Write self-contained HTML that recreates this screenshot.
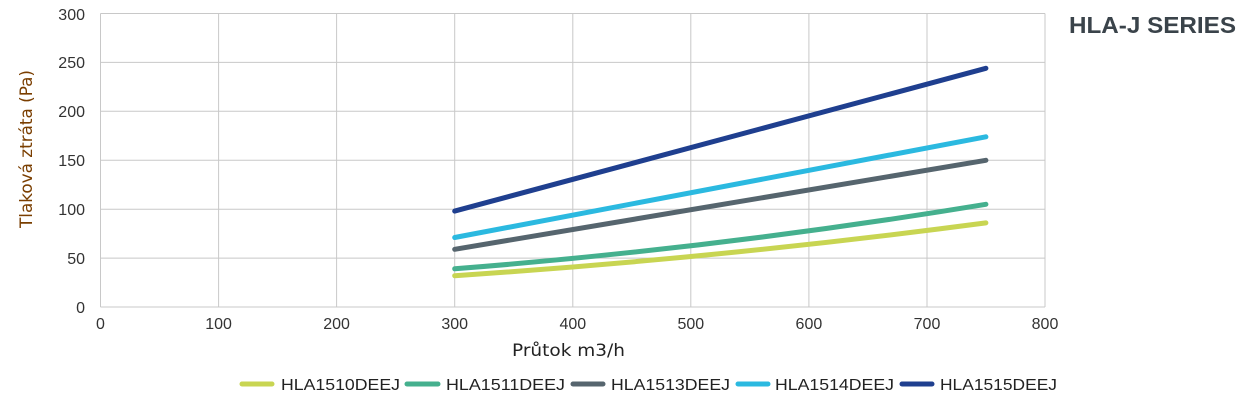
<!DOCTYPE html>
<html><head><meta charset="utf-8"><style>
html,body{margin:0;padding:0;background:#fff;}
svg{display:block;}
</style></head><body>
<svg width="1243" height="405" xmlns="http://www.w3.org/2000/svg">
<g stroke="#c8c8c8" stroke-width="1" fill="none">
<line x1="100.5" y1="258.1" x2="1045" y2="258.1"/>
<line x1="100.5" y1="209.2" x2="1045" y2="209.2"/>
<line x1="100.5" y1="160.3" x2="1045" y2="160.3"/>
<line x1="100.5" y1="111.3" x2="1045" y2="111.3"/>
<line x1="100.5" y1="62.4" x2="1045" y2="62.4"/>
<line x1="100.5" y1="13.5" x2="1045" y2="13.5"/>
<line x1="218.6" y1="13.5" x2="218.6" y2="307"/>
<line x1="336.6" y1="13.5" x2="336.6" y2="307"/>
<line x1="454.7" y1="13.5" x2="454.7" y2="307"/>
<line x1="572.8" y1="13.5" x2="572.8" y2="307"/>
<line x1="690.8" y1="13.5" x2="690.8" y2="307"/>
<line x1="808.9" y1="13.5" x2="808.9" y2="307"/>
<line x1="927" y1="13.5" x2="927" y2="307"/>
<line x1="1045" y1="13.5" x2="1045" y2="307"/>
<line x1="100.5" y1="13.5" x2="100.5" y2="307"/>
<line x1="100.5" y1="307" x2="1045" y2="307"/>
</g>
<g font-family="Liberation Sans, sans-serif" font-size="16" fill="#333" text-anchor="end">
<text x="85" y="313">0</text><text x="85" y="264">50</text><text x="85" y="215">100</text>
<text x="85" y="166">150</text><text x="85" y="117">200</text><text x="85" y="68">250</text><text x="85" y="20">300</text>
</g>
<g font-family="Liberation Sans, sans-serif" font-size="16" fill="#333" text-anchor="middle">
<text x="100.5" y="329">0</text><text x="218.6" y="329">100</text><text x="336.6" y="329">200</text>
<text x="454.7" y="329">300</text><text x="572.8" y="329">400</text><text x="690.8" y="329">500</text>
<text x="808.9" y="329">600</text><text x="927" y="329">700</text><text x="1045" y="329">800</text>
</g>
<text transform="translate(32,149) rotate(-90)" text-anchor="middle" font-family="DejaVu Sans, sans-serif" font-size="17" fill="#7a3e00" textLength="158" lengthAdjust="spacingAndGlyphs">Tlaková ztráta (Pa)</text>
<text x="512" y="356" font-family="DejaVu Sans, sans-serif" font-size="17" fill="#222" textLength="113" lengthAdjust="spacingAndGlyphs">Průtok m3/h</text>
<text x="1069" y="33" font-family="Liberation Sans, sans-serif" font-size="23" font-weight="bold" fill="#3a434a" textLength="167" lengthAdjust="spacingAndGlyphs">HLA-J SERIES</text>
<g fill="none" stroke-width="5" stroke-linecap="round" stroke-linejoin="round">
<path stroke="#c8d552" d="M454.7,275.7 Q720,258 985.9,222.9"/>
<path stroke="#45b08e" d="M454.7,268.8 Q720,248 985.9,204.3"/>
<polyline stroke="#56656e" points="454.7,249.3 985.9,160.3"/>
<polyline stroke="#2bb9e0" points="454.7,237.5 985.9,136.8"/>
<polyline stroke="#1f3f8f" points="454.7,211.1 985.9,68.3"/>
</g>
<g stroke-width="5" stroke-linecap="round">
<line x1="242" y1="384" x2="272" y2="384" stroke="#c8d552"/>
<line x1="407" y1="384" x2="438" y2="384" stroke="#45b08e"/>
<line x1="573" y1="384" x2="603" y2="384" stroke="#56656e"/>
<line x1="738" y1="384" x2="768" y2="384" stroke="#2bb9e0"/>
<line x1="902" y1="384" x2="932" y2="384" stroke="#1f3f8f"/>
</g>
<g font-family="Liberation Sans, sans-serif" font-size="16" fill="#222">
<text x="281" y="390" textLength="119" lengthAdjust="spacingAndGlyphs">HLA1510DEEJ</text>
<text x="446" y="390" textLength="119" lengthAdjust="spacingAndGlyphs">HLA1511DEEJ</text>
<text x="611" y="390" textLength="119" lengthAdjust="spacingAndGlyphs">HLA1513DEEJ</text>
<text x="775" y="390" textLength="119" lengthAdjust="spacingAndGlyphs">HLA1514DEEJ</text>
<text x="940" y="390" textLength="117" lengthAdjust="spacingAndGlyphs">HLA1515DEEJ</text>
</g>
</svg>
</body></html>
